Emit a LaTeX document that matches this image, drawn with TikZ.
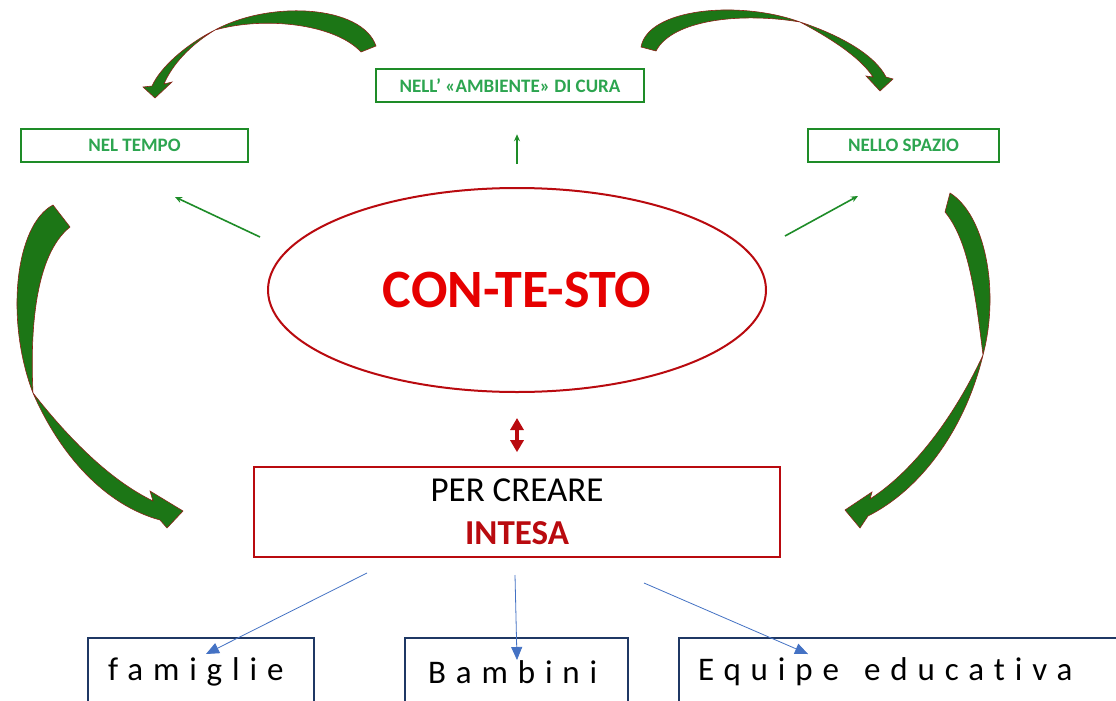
\documentclass[tikz,border=0pt]{standalone}
\usepackage{fontspec}
\setmainfont{Carlito}
\usetikzlibrary{arrows.meta,shapes.geometric}

\definecolor{boxgreen}{RGB}{30,140,40}
\definecolor{textgreen}{RGB}{45,165,80}
\definecolor{arrowgreen}{RGB}{28,118,22}
\definecolor{rimred}{RGB}{140,35,25}
\definecolor{ctxred}{RGB}{185,10,15}
\definecolor{txtred}{RGB}{230,0,0}
\definecolor{navy}{RGB}{31,56,100}
\definecolor{linkblue}{RGB}{68,114,196}

\begin{document}
\begin{tikzpicture}[x=1pt, y=-1pt,
    greenbox/.style={draw=boxgreen, line width=2.5pt, inner sep=0pt, minimum height=33pt,
        text=textgreen, font=\fontsize{19}{22}\selectfont\bfseries},
    thinarrow/.style={draw=boxgreen, line width=1.6pt, -{Stealth[length=7pt,width=6pt]}},
    bigarrow/.style={fill=arrowgreen, draw=rimred, line width=0.6pt},
    bluebox/.style={draw=navy, line width=2pt, inner ysep=0pt, minimum height=68pt, anchor=west, align=left,
        font=\fontsize{33}{40}\selectfont\addfontfeatures{LetterSpace=30,Ligatures=NoCommon}},
    bluearrow/.style={draw=linkblue, line width=0.8pt, -{Triangle[length=13pt,width=11pt]}},
]
    \clip (0,0) rectangle (1116,701);
    \fill[white] (0,0) rectangle (1116,701);

    % the three green boxes
    \node[greenbox, minimum width=227pt] (tempo) at (134.5,145.5) {NEL TEMPO};
    \node[greenbox, minimum width=268pt] (ambiente) at (510,85.5) {NELL’ «AMBIENTE» DI CURA};
    \node[greenbox, minimum width=191pt] (spazio) at (903.5,145.5) {NELLO SPAZIO};

    % the ellipse in the middle
    \node[ellipse, draw=ctxred, line width=2pt, inner sep=0pt, minimum width=498pt, minimum height=204pt,
        text=txtred, font=\fontsize{54}{64}\selectfont\bfseries] (ctx) at (517,290) {CON-TE-STO};

    % the box below
    \node[draw=ctxred, line width=1.6pt, minimum width=526pt, minimum height=90pt, align=center,
        font=\fontsize{35}{43}\selectfont] (intesa) at (517,512)
        {PER CREARE\\ \textcolor{ctxred}{\bfseries INTESA}};

    % bottom boxes
    \node[bluebox, text width=186pt, inner xsep=20pt] (famiglie) at (87,672) {famiglie};
    \node[bluebox, text width=177pt, inner xsep=23pt] (bambini) at (404,672) {Bambini};
    \node[bluebox, text width=420pt, inner xsep=19pt] (equipe) at (678,672) {Equipe\hspace{14pt} educativa};

    % thin arrows
    \coordinate (tl1) at (260,237);
    \coordinate (tl2) at (175,197);
    \coordinate (tr1) at (785,236);
    \coordinate (tr2) at (858,196);
    \draw[thinarrow] (tl1) -- (tl2);
    \draw[thinarrow] (tr1) -- (tr2);
    \draw[thinarrow, shorten <=23pt, shorten >=31pt] (ctx.north) -- (ctx.north |- ambiente.south);
    \draw[ctxred, line width=3.5pt, {Triangle[length=12pt,width=13pt]}-{Triangle[length=12pt,width=13pt]},
        shorten <=25pt, shorten >=14pt] (ctx.south) -- (intesa.north);

    % blue arrows
    \coordinate (b1) at (367,573);
    \coordinate (b2) at (515,575);
    \coordinate (b3) at (644,583);
    \coordinate (e1) at (206,654);
    \coordinate (e2) at (517,660);
    \coordinate (e3) at (808,654);
    \draw[bluearrow] (b1) -- (e1);
    \draw[bluearrow] (b2) -- (e2);
    \draw[bluearrow] (b3) -- (e3);

    % big curved arrows
    \path[bigarrow] (376,46) .. controls (362,5) and (270,0) .. (215,30)
        .. controls (185,45) and (160,68) .. (152,86) -- (143,87) -- (155,98) -- (172,82) -- (164,84)
        .. controls (172,65) and (190,45) .. (215,30)
        .. controls (265,16) and (335,24) .. (361,52) -- cycle;
    \path[bigarrow] (641,47) .. controls (648,8) and (740,0) .. (800,22)
        .. controls (840,35) and (875,55) .. (886,77) -- (893,79) -- (880,91) -- (866,76) -- (873,77)
        .. controls (860,57) and (830,38) .. (800,22)
        .. controls (740,12) and (672,20) .. (656,51) -- cycle;
    \path[bigarrow] (53,205) .. controls (15,225) and (5,320) .. (33,393)
        .. controls (60,455) and (105,505) .. (160,520) -- (167,528) -- (183,511) -- (150,491) -- (153,501)
        .. controls (110,480) and (70,440) .. (33,393)
        .. controls (30,330) and (35,255) .. (70,227) -- cycle;
    \path[bigarrow] (950,193) .. controls (985,215) and (1000,290) .. (983,355)
        .. controls (965,430) and (920,490) .. (868,516) -- (860,528) -- (845,510) -- (872,492) -- (870,499)
        .. controls (915,470) and (955,415) .. (983,355)
        .. controls (975,290) and (968,240) .. (945,212) -- cycle;
\end{tikzpicture}
\end{document}
